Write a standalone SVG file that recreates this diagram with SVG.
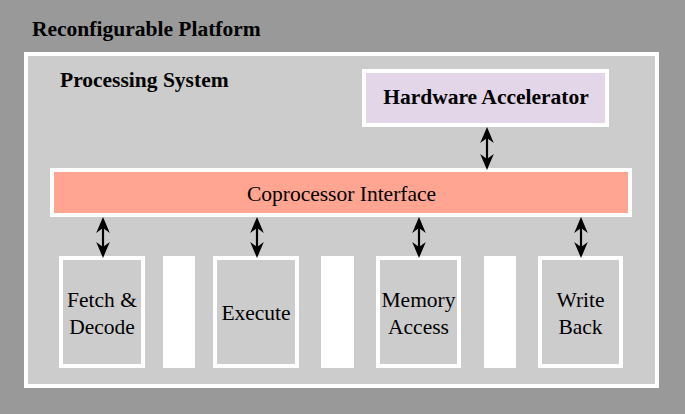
<svg xmlns="http://www.w3.org/2000/svg" width="685" height="414" viewBox="0 0 685 414">
<defs>
<style>
.frame{fill:#cccccc;stroke:#ffffff;stroke-width:4}
.bar{fill:#ffffff}
.t{font-family:"Liberation Serif","Times New Roman",serif;font-size:21.5px;fill:#000}
.b{font-weight:bold}
.m{text-anchor:middle}
.conn{stroke:#000;stroke-width:2.2;fill:none;marker-start:url(#ah);marker-end:url(#ah)}
</style>
<marker id="ah" viewBox="-17 -8 18 16" refX="-10" refY="0" markerWidth="18" markerHeight="16" markerUnits="userSpaceOnUse" orient="auto-start-reverse">
<path d="M0,0 L-16,-6.8 L-11,0 L-16,6.8 Z" fill="#000"/>
</marker>
</defs>
<rect x="0" y="0" width="685" height="414" fill="#999999"/>
<g id="platform">
<text class="t b" x="32" y="36">Reconfigurable Platform</text>
</g>
<g id="processing-system">
<rect class="frame" x="26" y="54" width="631" height="332"/>
<text class="t b" x="60" y="87">Processing System</text>
</g>
<g id="hardware-accelerator">
<rect x="364" y="71" width="243" height="54" fill="#e3d6e8" stroke="#ffffff" stroke-width="4"/>
<text class="t b m" x="486" y="104">Hardware Accelerator</text>
</g>
<g id="coprocessor-interface">
<rect x="52" y="170" width="578" height="45" fill="#ffa591" stroke="#ffffff" stroke-width="4"/>
<text class="t m" x="341.5" y="201">Coprocessor Interface</text>
</g>
<g id="fetch-decode">
<rect class="frame" x="61" y="258" width="82" height="108"/>
<text class="t m" x="102" y="307">Fetch &amp;</text>
<text class="t m" x="102" y="334">Decode</text>
</g>
<g id="reg1"><rect class="bar" x="163" y="256" width="32" height="112"/></g>
<g id="execute">
<rect class="frame" x="215" y="258" width="82" height="108"/>
<text class="t m" x="256" y="320">Execute</text>
</g>
<g id="reg2"><rect class="bar" x="321" y="256" width="33" height="112"/></g>
<g id="memory-access">
<rect class="frame" x="378" y="258" width="81" height="108"/>
<text class="t m" x="418.5" y="307">Memory</text>
<text class="t m" x="418.5" y="334">Access</text>
</g>
<g id="reg3"><rect class="bar" x="484" y="256" width="32" height="112"/></g>
<g id="write-back">
<rect class="frame" x="540" y="258" width="81" height="108"/>
<text class="t m" x="580.5" y="307">Write</text>
<text class="t m" x="580.5" y="334">Back</text>
</g>
<g id="connectors">
<line class="conn" x1="487" y1="137" x2="487" y2="160"/>
<line class="conn" x1="103" y1="227" x2="103" y2="248"/>
<line class="conn" x1="257" y1="227" x2="257" y2="248"/>
<line class="conn" x1="419" y1="227" x2="419" y2="248"/>
<line class="conn" x1="581" y1="227" x2="581" y2="248"/>
</g>
</svg>
